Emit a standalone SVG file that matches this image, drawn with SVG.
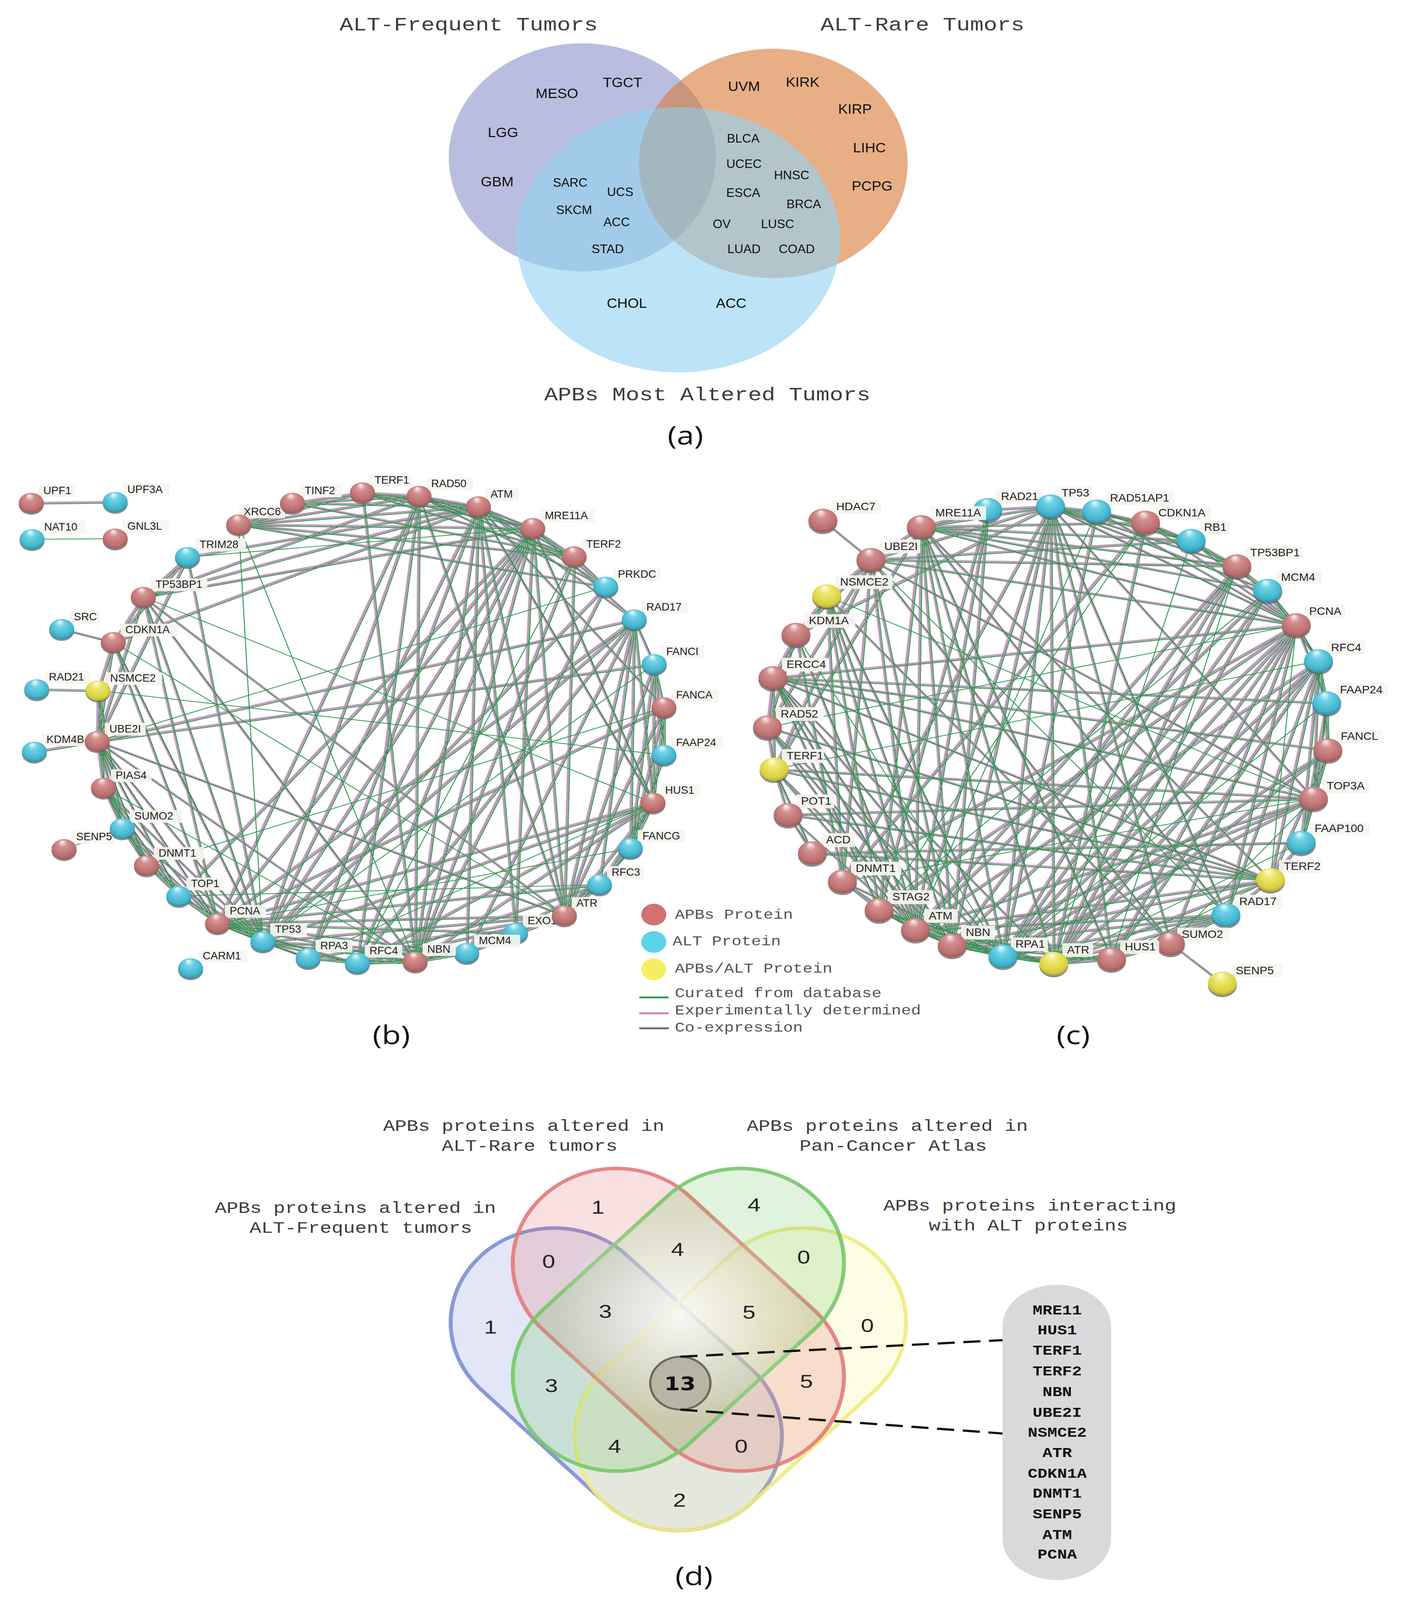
<svg xmlns="http://www.w3.org/2000/svg" xmlns:xlink="http://www.w3.org/1999/xlink" width="3618" height="5019" viewBox="0 0 3618 5019">
<style>
.lb{font-family:"Liberation Sans",Arial,sans-serif;font-size:33px;fill:#1e1e1e}
.lc{font-size:35px}
.bx{fill:#f6f5f0;fill-opacity:.93}
.sh{fill:#666;fill-opacity:.75}
.va{font-family:"Liberation Sans",Arial,sans-serif;fill:#111;text-anchor:middle}
.mono{font-family:"Liberation Mono","Courier New",monospace;fill:#3c3c3c}
.mid{text-anchor:middle}
.num{font-family:"Liberation Sans",Arial,sans-serif;font-size:60px;fill:#222;text-anchor:middle}
.cap{font-family:"Open Sans","Liberation Sans",sans-serif;font-size:80px;fill:#111;text-anchor:middle}
.lst{font-family:"Liberation Mono","Courier New",monospace;font-size:42px;font-weight:bold;fill:#111;text-anchor:middle}
</style>
<defs>
<radialGradient id="gR" cx="0.5" cy="0.45" r="0.6" fx="0.42" fy="0.12"><stop offset="0" stop-color="#fff7f7"/><stop offset="0.3" stop-color="#d49090"/><stop offset="0.8" stop-color="#bb6d6d"/><stop offset="1" stop-color="#935252"/></radialGradient>
<radialGradient id="gB" cx="0.5" cy="0.45" r="0.6" fx="0.42" fy="0.12"><stop offset="0" stop-color="#f2feff"/><stop offset="0.3" stop-color="#6fd2e6"/><stop offset="0.8" stop-color="#40b3cc"/><stop offset="1" stop-color="#2b8196"/></radialGradient>
<radialGradient id="gY" cx="0.5" cy="0.45" r="0.6" fx="0.42" fy="0.12"><stop offset="0" stop-color="#fffff2"/><stop offset="0.3" stop-color="#efe872"/><stop offset="0.8" stop-color="#d9d13c"/><stop offset="1" stop-color="#a39c2c"/></radialGradient>
<radialGradient id="glow" cx="0.5" cy="0.5" r="0.5"><stop offset="0" stop-color="#fff" stop-opacity=".85"/><stop offset="1" stop-color="#fff" stop-opacity="0"/></radialGradient>
<clipPath id="cpP"><ellipse cx="1491" cy="494" rx="342" ry="358"/></clipPath>
<clipPath id="cpO"><ellipse cx="1980" cy="513" rx="344" ry="360"/></clipPath>
</defs>
<rect width="3618" height="5019" fill="#fff"/>
<g id="figure" transform="scale(1 0.8155)">

<!-- (a) Venn -->
<g id="venn-a">
<g id="set-alt-frequent"><ellipse cx="1491" cy="494" rx="342" ry="358" fill="#b9bde0"/></g>
<g id="set-alt-rare"><ellipse cx="1980" cy="513" rx="344" ry="360" fill="#e8ae86"/>
<g clip-path="url(#cpP)"><ellipse cx="1980" cy="513" rx="344" ry="360" fill="#c9957f"/></g></g>
<g id="set-apbs-altered"><ellipse cx="1737" cy="753" rx="414" ry="416" fill="#bce4f6"/>
<g clip-path="url(#cpP)"><ellipse cx="1737" cy="753" rx="414" ry="416" fill="#a2cbe9"/></g>
<g clip-path="url(#cpO)"><ellipse cx="1737" cy="753" rx="414" ry="416" fill="#b2c5ca"/></g>
<g clip-path="url(#cpP)"><g clip-path="url(#cpO)"><ellipse cx="1737" cy="753" rx="414" ry="416" fill="#a3b7bf"/></g></g></g>
<g id="venn-a-labels" class="va" font-size="44">
<text transform="translate(1426 308) scale(.84 1)">MESO</text>
<text transform="translate(1594 274) scale(.84 1)">TGCT</text>
<text transform="translate(1288 431) scale(.84 1)">LGG</text>
<text transform="translate(1273 585) scale(.84 1)">GBM</text>
<text transform="translate(1905 286) scale(.84 1)">UVM</text>
<text transform="translate(2055 272) scale(.84 1)">KIRK</text>
<text transform="translate(2189 357) scale(.84 1)">KIRP</text>
<text transform="translate(2226 478) scale(.84 1)">LIHC</text>
<text transform="translate(2233 598) scale(.84 1)">PCPG</text>
<text transform="translate(1605 966) scale(.84 1)">CHOL</text>
<text transform="translate(1872 966) scale(.84 1)">ACC</text>
</g>
<g class="va" font-size="38">
<text transform="translate(1460 586) scale(.84 1)">SARC</text>
<text transform="translate(1588 616) scale(.84 1)">UCS</text>
<text transform="translate(1470 672) scale(.84 1)">SKCM</text>
<text transform="translate(1579 710) scale(.84 1)">ACC</text>
<text transform="translate(1556 795) scale(.84 1)">STAD</text>
<text transform="translate(1903 448) scale(.84 1)">BLCA</text>
<text transform="translate(1905 527) scale(.84 1)">UCEC</text>
<text transform="translate(2027 563) scale(.84 1)">HNSC</text>
<text transform="translate(1903 618) scale(.84 1)">ESCA</text>
<text transform="translate(2058 654) scale(.84 1)">BRCA</text>
<text transform="translate(1848 716) scale(.84 1)">OV</text>
<text transform="translate(1991 716) scale(.84 1)">LUSC</text>
<text transform="translate(1905 795) scale(.84 1)">LUAD</text>
<text transform="translate(2040 795) scale(.84 1)">COAD</text>
</g>
<g class="mono mid" font-size="58">
<text x="1200" y="96">ALT-Frequent Tumors</text>
<text x="2362" y="96">ALT-Rare Tumors</text>
<text x="1811" y="1257">APBs Most Altered Tumors</text>
</g>
<text class="cap" x="1755" y="1395">(a)</text>
</g>

<!-- (b) connectors -->
<g id="connectors-b" fill="none" stroke="#cc78c0" stroke-width="7">
<g id="eb">
<line x1="80" y1="1579" x2="295" y2="1576"/><line x1="158" y1="1975" x2="290" y2="2016"/><line x1="94" y1="2164" x2="251" y2="2168"/><line x1="88" y1="2360" x2="249" y2="2327"/>
<line x1="611" y1="1647" x2="749" y2="1579"/><line x1="611" y1="1647" x2="928" y2="1546"/><line x1="611" y1="1647" x2="1073" y2="1557"/><line x1="611" y1="1647" x2="1225" y2="1590"/><line x1="611" y1="1647" x2="1364" y2="1658"/><line x1="611" y1="1647" x2="1470" y2="1747"/><line x1="611" y1="1647" x2="1551" y2="1842"/>
<line x1="749" y1="1579" x2="928" y2="1546"/><line x1="749" y1="1579" x2="1073" y2="1557"/><line x1="749" y1="1579" x2="1470" y2="1747"/><line x1="749" y1="1579" x2="1225" y2="1590"/>
<line x1="928" y1="1546" x2="1073" y2="1557"/><line x1="928" y1="1546" x2="1225" y2="1590"/><line x1="928" y1="1546" x2="1364" y2="1658"/><line x1="928" y1="1546" x2="1470" y2="1747"/><line x1="928" y1="1546" x2="1063" y2="3019"/>
<line x1="1073" y1="1557" x2="1225" y2="1590"/><line x1="1073" y1="1557" x2="1364" y2="1658"/><line x1="1073" y1="1557" x2="1470" y2="1747"/><line x1="1073" y1="1557" x2="1063" y2="3019"/><line x1="1073" y1="1557" x2="673" y2="2956"/><line x1="1073" y1="1557" x2="1551" y2="1842"/><line x1="1073" y1="1557" x2="1445" y2="2874"/><line x1="1073" y1="1557" x2="367" y2="1874"/><line x1="1073" y1="1557" x2="557" y2="2899"/><line x1="1073" y1="1557" x2="915" y2="3024"/>
<line x1="1225" y1="1590" x2="1364" y2="1658"/><line x1="1225" y1="1590" x2="1470" y2="1747"/><line x1="1225" y1="1590" x2="673" y2="2956"/><line x1="1225" y1="1590" x2="1063" y2="3019"/><line x1="1225" y1="1590" x2="367" y2="1874"/><line x1="1225" y1="1590" x2="290" y2="2016"/><line x1="1225" y1="1590" x2="1445" y2="2874"/><line x1="1225" y1="1590" x2="1551" y2="1842"/><line x1="1225" y1="1590" x2="1624" y2="1945"/><line x1="1225" y1="1590" x2="1672" y2="2520"/><line x1="1225" y1="1590" x2="1195" y2="2992"/><line x1="1225" y1="1590" x2="1320" y2="2929"/><line x1="1225" y1="1590" x2="1700" y2="2221"/><line x1="1225" y1="1590" x2="480" y2="1749"/><line x1="1225" y1="1590" x2="789" y2="3008"/>
<line x1="1364" y1="1658" x2="1470" y2="1747"/><line x1="1364" y1="1658" x2="1063" y2="3019"/><line x1="1364" y1="1658" x2="1551" y2="1842"/><line x1="1364" y1="1658" x2="1624" y2="1945"/><line x1="1364" y1="1658" x2="673" y2="2956"/><line x1="1364" y1="1658" x2="367" y2="1874"/><line x1="1364" y1="1658" x2="1445" y2="2874"/><line x1="1364" y1="1658" x2="1320" y2="2929"/><line x1="1364" y1="1658" x2="915" y2="3024"/><line x1="1364" y1="1658" x2="789" y2="3008"/><line x1="1364" y1="1658" x2="1672" y2="2520"/><line x1="1364" y1="1658" x2="557" y2="2899"/><line x1="1364" y1="1658" x2="458" y2="2813"/>
<line x1="1470" y1="1747" x2="1551" y2="1842"/><line x1="1470" y1="1747" x2="1063" y2="3019"/><line x1="1470" y1="1747" x2="1445" y2="2874"/><line x1="1551" y1="1842" x2="673" y2="2956"/><line x1="1551" y1="1842" x2="1063" y2="3019"/>
<line x1="1624" y1="1945" x2="1675" y2="2085"/><line x1="1624" y1="1945" x2="1672" y2="2520"/><line x1="1624" y1="1945" x2="1535" y2="2777"/><line x1="1624" y1="1945" x2="915" y2="3024"/><line x1="1624" y1="1945" x2="1445" y2="2874"/><line x1="1624" y1="1945" x2="1195" y2="2992"/><line x1="1624" y1="1945" x2="557" y2="2899"/><line x1="1624" y1="1945" x2="1614" y2="2663"/><line x1="1624" y1="1945" x2="673" y2="2956"/>
<line x1="1675" y1="2085" x2="1700" y2="2221"/><line x1="1675" y1="2085" x2="1700" y2="2370"/><line x1="1675" y1="2085" x2="1614" y2="2663"/><line x1="1675" y1="2085" x2="1445" y2="2874"/><line x1="1675" y1="2085" x2="1672" y2="2520"/>
<line x1="1700" y1="2221" x2="1700" y2="2370"/><line x1="1700" y1="2221" x2="1614" y2="2663"/><line x1="1700" y1="2221" x2="1445" y2="2874"/><line x1="1700" y1="2221" x2="557" y2="2899"/><line x1="1700" y1="2221" x2="1672" y2="2520"/><line x1="1700" y1="2370" x2="1614" y2="2663"/>
<line x1="1672" y1="2520" x2="1445" y2="2874"/><line x1="1672" y1="2520" x2="1535" y2="2777"/><line x1="1672" y1="2520" x2="1614" y2="2663"/><line x1="1672" y1="2520" x2="915" y2="3024"/><line x1="1672" y1="2520" x2="1063" y2="3019"/><line x1="1672" y1="2520" x2="557" y2="2899"/><line x1="1672" y1="2520" x2="673" y2="2956"/>
<line x1="1614" y1="2663" x2="1535" y2="2777"/><line x1="1614" y1="2663" x2="1445" y2="2874"/><line x1="1535" y1="2777" x2="1445" y2="2874"/><line x1="1535" y1="2777" x2="915" y2="3024"/><line x1="1535" y1="2777" x2="557" y2="2899"/><line x1="1535" y1="2777" x2="1195" y2="2992"/>
<line x1="1445" y1="2874" x2="673" y2="2956"/><line x1="1445" y1="2874" x2="1063" y2="3019"/><line x1="1445" y1="2874" x2="789" y2="3008"/><line x1="1445" y1="2874" x2="557" y2="2899"/><line x1="1445" y1="2874" x2="1195" y2="2992"/><line x1="1445" y1="2874" x2="915" y2="3024"/><line x1="1445" y1="2874" x2="367" y2="1874"/><line x1="1445" y1="2874" x2="249" y2="2327"/>
<line x1="1320" y1="2929" x2="557" y2="2899"/><line x1="1320" y1="2929" x2="1063" y2="3019"/><line x1="1195" y1="2992" x2="1063" y2="3019"/><line x1="1195" y1="2992" x2="557" y2="2899"/><line x1="1195" y1="2992" x2="915" y2="3024"/><line x1="1195" y1="2992" x2="673" y2="2956"/>
<line x1="1063" y1="3019" x2="915" y2="3024"/><line x1="1063" y1="3019" x2="673" y2="2956"/><line x1="1063" y1="3019" x2="789" y2="3008"/><line x1="1063" y1="3019" x2="557" y2="2899"/><line x1="1063" y1="3019" x2="367" y2="1874"/><line x1="1063" y1="3019" x2="249" y2="2327"/>
<line x1="915" y1="3024" x2="789" y2="3008"/><line x1="915" y1="3024" x2="557" y2="2899"/><line x1="915" y1="3024" x2="673" y2="2956"/><line x1="789" y1="3008" x2="673" y2="2956"/><line x1="789" y1="3008" x2="557" y2="2899"/>
<line x1="673" y1="2956" x2="557" y2="2899"/><line x1="673" y1="2956" x2="290" y2="2016"/><line x1="673" y1="2956" x2="367" y2="1874"/><line x1="673" y1="2956" x2="249" y2="2327"/><line x1="673" y1="2956" x2="375" y2="2717"/><line x1="673" y1="2956" x2="458" y2="2813"/><line x1="673" y1="2956" x2="265" y2="2473"/><line x1="673" y1="2956" x2="313" y2="2601"/><line x1="673" y1="2956" x2="480" y2="1749"/>
<line x1="557" y1="2899" x2="458" y2="2813"/><line x1="557" y1="2899" x2="375" y2="2717"/><line x1="557" y1="2899" x2="313" y2="2601"/><line x1="557" y1="2899" x2="249" y2="2327"/><line x1="557" y1="2899" x2="265" y2="2473"/><line x1="557" y1="2899" x2="290" y2="2016"/><line x1="557" y1="2899" x2="367" y2="1874"/>
<line x1="480" y1="1749" x2="367" y2="1874"/><line x1="480" y1="1749" x2="290" y2="2016"/><line x1="480" y1="1749" x2="249" y2="2327"/><line x1="367" y1="1874" x2="290" y2="2016"/><line x1="367" y1="1874" x2="249" y2="2327"/><line x1="290" y1="2016" x2="249" y2="2327"/><line x1="290" y1="2016" x2="251" y2="2168"/>
<line x1="251" y1="2168" x2="249" y2="2327"/><line x1="251" y1="2168" x2="313" y2="2601"/><line x1="251" y1="2168" x2="265" y2="2473"/><line x1="249" y1="2327" x2="265" y2="2473"/><line x1="249" y1="2327" x2="313" y2="2601"/><line x1="249" y1="2327" x2="375" y2="2717"/><line x1="249" y1="2327" x2="458" y2="2813"/><line x1="249" y1="2327" x2="1624" y2="1945"/><line x1="249" y1="2327" x2="1675" y2="2085"/>
<line x1="265" y1="2473" x2="313" y2="2601"/><line x1="265" y1="2473" x2="375" y2="2717"/><line x1="265" y1="2473" x2="458" y2="2813"/><line x1="313" y1="2601" x2="375" y2="2717"/><line x1="313" y1="2601" x2="458" y2="2813"/><line x1="375" y1="2717" x2="458" y2="2813"/>
</g>
<use xlink:href="#eb" href="#eb" stroke="#f4ecf2" stroke-width="3.6"/>
<use xlink:href="#eb" href="#eb" stroke="#505050" stroke-width="1.3"/>
<use xlink:href="#eb" href="#eb" stroke="#2a9a4e" stroke-width="2.3" transform="translate(3.5 3.5)"/>
<g stroke="#2a9a4e" stroke-width="2.4">
<line x1="82" y1="1693" x2="295" y2="1691"/><line x1="164" y1="2666" x2="313" y2="2601"/><line x1="480" y1="1749" x2="1364" y2="1658"/><line x1="265" y1="2473" x2="1063" y2="3019"/><line x1="367" y1="1874" x2="1672" y2="2520"/><line x1="611" y1="1647" x2="673" y2="2956"/><line x1="290" y1="2016" x2="1445" y2="2874"/><line x1="375" y1="2717" x2="1700" y2="2221"/><line x1="458" y1="2813" x2="1535" y2="2777"/><line x1="557" y1="2899" x2="1614" y2="2663"/><line x1="673" y1="2956" x2="1675" y2="2085"/><line x1="789" y1="3008" x2="1672" y2="2520"/><line x1="611" y1="1647" x2="1063" y2="3019"/><line x1="1470" y1="1747" x2="915" y2="3024"/><line x1="1551" y1="1842" x2="249" y2="2327"/><line x1="251" y1="2168" x2="1700" y2="2370"/>
</g>
</g>

<!-- (b) nodes -->
<g id="nodes-b">
<g id="b-UPF1"><rect class="bx" x="99" y="1521" width="94" height="40" rx="4"/><circle class="sh" cx="80" cy="1584" r="32"/><circle fill="url(#gR)" cx="80" cy="1579" r="32"/><text class="lb" transform="translate(111 1551) scale(.85 1)">UPF1</text></g>
<g id="b-UPF3A"><rect class="bx" x="314" y="1518" width="120" height="40" rx="4"/><circle class="sh" cx="295" cy="1581" r="32"/><circle fill="url(#gB)" cx="295" cy="1576" r="32"/><text class="lb" transform="translate(326 1548) scale(.85 1)">UPF3A</text></g>
<g id="b-NAT10"><rect class="bx" x="101" y="1635" width="117" height="40" rx="4"/><circle class="sh" cx="82" cy="1698" r="32"/><circle fill="url(#gB)" cx="82" cy="1693" r="32"/><text class="lb" transform="translate(113 1665) scale(.85 1)">NAT10</text></g>
<g id="b-GNL3L"><rect class="bx" x="314" y="1633" width="119" height="40" rx="4"/><circle class="sh" cx="295" cy="1696" r="32"/><circle fill="url(#gR)" cx="295" cy="1691" r="32"/><text class="lb" transform="translate(326 1663) scale(.85 1)">GNL3L</text></g>
<g id="b-XRCC6"><rect class="bx" x="612" y="1587" width="118" height="40" rx="4"/><circle class="sh" cx="611" cy="1652" r="32"/><circle fill="url(#gR)" cx="611" cy="1647" r="32"/><text class="lb" transform="translate(624 1617) scale(.85 1)">XRCC6</text></g>
<g id="b-TINF2"><rect class="bx" x="768" y="1521" width="107" height="40" rx="4"/><circle class="sh" cx="749" cy="1584" r="32"/><circle fill="url(#gR)" cx="749" cy="1579" r="32"/><text class="lb" transform="translate(780 1551) scale(.85 1)">TINF2</text></g>
<g id="b-TERF1"><rect class="bx" x="947" y="1488" width="107" height="40" rx="4"/><circle class="sh" cx="928" cy="1551" r="32"/><circle fill="url(#gR)" cx="928" cy="1546" r="32"/><text class="lb" transform="translate(959 1518) scale(.85 1)">TERF1</text></g>
<g id="b-RAD50"><rect class="bx" x="1092" y="1499" width="120" height="40" rx="4"/><circle class="sh" cx="1073" cy="1562" r="32"/><circle fill="url(#gR)" cx="1073" cy="1557" r="32"/><text class="lb" transform="translate(1104 1529) scale(.85 1)">RAD50</text></g>
<g id="b-ATM"><rect class="bx" x="1244" y="1532" width="85" height="40" rx="4"/><circle class="sh" cx="1225" cy="1595" r="32"/><circle fill="url(#gR)" cx="1225" cy="1590" r="32"/><text class="lb" transform="translate(1256 1562) scale(.85 1)">ATM</text></g>
<g id="b-MRE11A"><rect class="bx" x="1383" y="1600" width="140" height="40" rx="4"/><circle class="sh" cx="1364" cy="1663" r="32"/><circle fill="url(#gR)" cx="1364" cy="1658" r="32"/><text class="lb" transform="translate(1395 1630) scale(.85 1)">MRE11A</text></g>
<g id="b-TERF2"><rect class="bx" x="1489" y="1689" width="108" height="40" rx="4"/><circle class="sh" cx="1470" cy="1752" r="32"/><circle fill="url(#gR)" cx="1470" cy="1747" r="32"/><text class="lb" transform="translate(1501 1719) scale(.85 1)">TERF2</text></g>
<g id="b-PRKDC"><rect class="bx" x="1570" y="1784" width="121" height="40" rx="4"/><circle class="sh" cx="1551" cy="1847" r="32"/><circle fill="url(#gB)" cx="1551" cy="1842" r="32"/><text class="lb" transform="translate(1582 1814) scale(.85 1)">PRKDC</text></g>
<g id="b-RAD17"><rect class="bx" x="1643" y="1887" width="120" height="40" rx="4"/><circle class="sh" cx="1624" cy="1950" r="32"/><circle fill="url(#gB)" cx="1624" cy="1945" r="32"/><text class="lb" transform="translate(1655 1917) scale(.85 1)">RAD17</text></g>
<g id="b-FANCI"><rect class="bx" x="1694" y="2027" width="108" height="40" rx="4"/><circle class="sh" cx="1675" cy="2090" r="32"/><circle fill="url(#gB)" cx="1675" cy="2085" r="32"/><text class="lb" transform="translate(1706 2057) scale(.85 1)">FANCI</text></g>
<g id="b-FANCA"><rect class="bx" x="1719" y="2163" width="121" height="40" rx="4"/><circle class="sh" cx="1700" cy="2226" r="32"/><circle fill="url(#gR)" cx="1700" cy="2221" r="32"/><text class="lb" transform="translate(1731 2193) scale(.85 1)">FANCA</text></g>
<g id="b-FAAP24"><rect class="bx" x="1719" y="2312" width="133" height="40" rx="4"/><circle class="sh" cx="1700" cy="2375" r="32"/><circle fill="url(#gB)" cx="1700" cy="2370" r="32"/><text class="lb" transform="translate(1731 2342) scale(.85 1)">FAAP24</text></g>
<g id="b-HUS1"><rect class="bx" x="1691" y="2462" width="100" height="40" rx="4"/><circle class="sh" cx="1672" cy="2525" r="32"/><circle fill="url(#gR)" cx="1672" cy="2520" r="32"/><text class="lb" transform="translate(1703 2492) scale(.85 1)">HUS1</text></g>
<g id="b-FANCG"><rect class="bx" x="1633" y="2605" width="122" height="40" rx="4"/><circle class="sh" cx="1614" cy="2668" r="32"/><circle fill="url(#gB)" cx="1614" cy="2663" r="32"/><text class="lb" transform="translate(1645 2635) scale(.85 1)">FANCG</text></g>
<g id="b-RFC3"><rect class="bx" x="1554" y="2719" width="94" height="40" rx="4"/><circle class="sh" cx="1535" cy="2782" r="32"/><circle fill="url(#gB)" cx="1535" cy="2777" r="32"/><text class="lb" transform="translate(1566 2749) scale(.85 1)">RFC3</text></g>
<g id="b-EXO1"><rect class="bx" x="1339" y="2871" width="102" height="40" rx="4"/><circle class="sh" cx="1320" cy="2934" r="32"/><circle fill="url(#gB)" cx="1320" cy="2929" r="32"/><text class="lb" transform="translate(1351 2901) scale(.85 1)">EXO1</text></g>
<g id="b-ATR"><rect class="bx" x="1464" y="2816" width="76" height="40" rx="4"/><circle class="sh" cx="1445" cy="2879" r="32"/><circle fill="url(#gR)" cx="1445" cy="2874" r="32"/><text class="lb" transform="translate(1476 2846) scale(.85 1)">ATR</text></g>
<g id="b-MCM4"><rect class="bx" x="1214" y="2934" width="118" height="40" rx="4"/><circle class="sh" cx="1195" cy="2997" r="32"/><circle fill="url(#gB)" cx="1195" cy="2992" r="32"/><text class="lb" transform="translate(1226 2964) scale(.85 1)">MCM4</text></g>
<g id="b-NBN"><rect class="bx" x="1082" y="2961" width="85" height="40" rx="4"/><circle class="sh" cx="1063" cy="3024" r="32"/><circle fill="url(#gR)" cx="1063" cy="3019" r="32"/><text class="lb" transform="translate(1094 2991) scale(.85 1)">NBN</text></g>
<g id="b-RFC4"><rect class="bx" x="934" y="2966" width="96" height="40" rx="4"/><circle class="sh" cx="915" cy="3029" r="32"/><circle fill="url(#gB)" cx="915" cy="3024" r="32"/><text class="lb" transform="translate(946 2996) scale(.85 1)">RFC4</text></g>
<g id="b-RPA3"><rect class="bx" x="808" y="2950" width="94" height="40" rx="4"/><circle class="sh" cx="789" cy="3013" r="32"/><circle fill="url(#gB)" cx="789" cy="3008" r="32"/><text class="lb" transform="translate(820 2980) scale(.85 1)">RPA3</text></g>
<g id="b-CARM1"><rect class="bx" x="507" y="2982" width="126" height="40" rx="4"/><circle class="sh" cx="488" cy="3045" r="32"/><circle fill="url(#gB)" cx="488" cy="3040" r="32"/><text class="lb" transform="translate(519 3012) scale(.85 1)">CARM1</text></g>
<g id="b-TP53"><rect class="bx" x="692" y="2898" width="94" height="40" rx="4"/><circle class="sh" cx="673" cy="2961" r="32"/><circle fill="url(#gB)" cx="673" cy="2956" r="32"/><text class="lb" transform="translate(704 2928) scale(.85 1)">TP53</text></g>
<g id="b-PCNA"><rect class="bx" x="576" y="2841" width="105" height="40" rx="4"/><circle class="sh" cx="557" cy="2904" r="32"/><circle fill="url(#gR)" cx="557" cy="2899" r="32"/><text class="lb" transform="translate(588 2871) scale(.85 1)">PCNA</text></g>
<g id="b-TOP1"><rect class="bx" x="477" y="2755" width="95" height="40" rx="4"/><circle class="sh" cx="458" cy="2818" r="32"/><circle fill="url(#gB)" cx="458" cy="2813" r="32"/><text class="lb" transform="translate(489 2785) scale(.85 1)">TOP1</text></g>
<g id="b-DNMT1"><rect class="bx" x="394" y="2659" width="128" height="40" rx="4"/><circle class="sh" cx="375" cy="2722" r="32"/><circle fill="url(#gR)" cx="375" cy="2717" r="32"/><text class="lb" transform="translate(406 2689) scale(.85 1)">DNMT1</text></g>
<g id="b-SENP5"><rect class="bx" x="183" y="2608" width="110" height="40" rx="4"/><circle class="sh" cx="164" cy="2671" r="32"/><circle fill="url(#gR)" cx="164" cy="2666" r="32"/><text class="lb" transform="translate(195 2638) scale(.85 1)">SENP5</text></g>
<g id="b-SUMO2"><rect class="bx" x="332" y="2543" width="134" height="40" rx="4"/><circle class="sh" cx="313" cy="2606" r="32"/><circle fill="url(#gB)" cx="313" cy="2601" r="32"/><text class="lb" transform="translate(344 2573) scale(.85 1)">SUMO2</text></g>
<g id="b-PIAS4"><rect class="bx" x="284" y="2415" width="104" height="40" rx="4"/><circle class="sh" cx="265" cy="2478" r="32"/><circle fill="url(#gR)" cx="265" cy="2473" r="32"/><text class="lb" transform="translate(296 2445) scale(.85 1)">PIAS4</text></g>
<g id="b-KDM4B"><rect class="bx" x="107" y="2302" width="129" height="40" rx="4"/><circle class="sh" cx="88" cy="2365" r="32"/><circle fill="url(#gB)" cx="88" cy="2360" r="32"/><text class="lb" transform="translate(119 2332) scale(.85 1)">KDM4B</text></g>
<g id="b-UBE2I"><rect class="bx" x="268" y="2269" width="105" height="40" rx="4"/><circle class="sh" cx="249" cy="2332" r="32"/><circle fill="url(#gR)" cx="249" cy="2327" r="32"/><text class="lb" transform="translate(280 2299) scale(.85 1)">UBE2I</text></g>
<g id="b-RAD21"><rect class="bx" x="113" y="2106" width="118" height="40" rx="4"/><circle class="sh" cx="94" cy="2169" r="32"/><circle fill="url(#gB)" cx="94" cy="2164" r="32"/><text class="lb" transform="translate(125 2136) scale(.85 1)">RAD21</text></g>
<g id="b-NSMCE2"><rect class="bx" x="270" y="2110" width="145" height="40" rx="4"/><circle class="sh" cx="251" cy="2173" r="32"/><circle fill="url(#gY)" cx="251" cy="2168" r="32"/><text class="lb" transform="translate(282 2140) scale(.85 1)">NSMCE2</text></g>
<g id="b-SRC"><rect class="bx" x="177" y="1917" width="79" height="40" rx="4"/><circle class="sh" cx="158" cy="1980" r="32"/><circle fill="url(#gB)" cx="158" cy="1975" r="32"/><text class="lb" transform="translate(189 1947) scale(.85 1)">SRC</text></g>
<g id="b-CDKN1A"><rect class="bx" x="309" y="1958" width="146" height="40" rx="4"/><circle class="sh" cx="290" cy="2021" r="32"/><circle fill="url(#gR)" cx="290" cy="2016" r="32"/><text class="lb" transform="translate(321 1988) scale(.85 1)">CDKN1A</text></g>
<g id="b-TP53BP1"><rect class="bx" x="386" y="1816" width="145" height="40" rx="4"/><circle class="sh" cx="367" cy="1879" r="32"/><circle fill="url(#gR)" cx="367" cy="1874" r="32"/><text class="lb" transform="translate(398 1846) scale(.85 1)">TP53BP1</text></g>
<g id="b-TRIM28"><rect class="bx" x="499" y="1691" width="130" height="40" rx="4"/><circle class="sh" cx="480" cy="1754" r="32"/><circle fill="url(#gB)" cx="480" cy="1749" r="32"/><text class="lb" transform="translate(511 1721) scale(.85 1)">TRIM28</text></g>
</g>
<text class="cap" x="1002" y="3278">(b)</text>

<!-- legend -->
<g id="legend">
<ellipse cx="1674" cy="2871" rx="32" ry="34" fill="#d07272"/>
<ellipse cx="1674" cy="2957" rx="32" ry="34" fill="#5dd3ea"/>
<ellipse cx="1674" cy="3043" rx="32" ry="34" fill="#f6ee62"/>
<line x1="1637" y1="3131" x2="1712" y2="3131" stroke="#2e9a50" stroke-width="6"/>
<line x1="1637" y1="3181" x2="1712" y2="3181" stroke="#c980c0" stroke-width="6"/>
<line x1="1637" y1="3228" x2="1712" y2="3228" stroke="#6e6e6e" stroke-width="6"/>
<g class="mono" font-size="42" style="fill:#555">
<text x="1728" y="2884">APBs Protein</text>
<text x="1722" y="2968">ALT Protein</text>
<text x="1728" y="3053">APBs/ALT Protein</text>
<text x="1728" y="3131">Curated from database</text>
<text x="1728" y="3185">Experimentally determined</text>
<text x="1728" y="3238">Co-expression</text>
</g>
</g>

<!-- (c) connectors -->
<g id="connectors-c" fill="none" stroke="#cc78c0" stroke-width="7">
<g id="ec">
<line x1="2107" y1="1634" x2="2230" y2="1757"/>
<line x1="2230" y1="1757" x2="2359" y2="1654"/><line x1="2230" y1="1757" x2="2117" y2="1871"/><line x1="2230" y1="1757" x2="2038" y2="1992"/><line x1="2230" y1="1757" x2="2690" y2="1589"/><line x1="2230" y1="1757" x2="3319" y2="1962"/><line x1="2230" y1="1757" x2="3363" y2="2507"/><line x1="2230" y1="1757" x2="1965" y2="2283"/><line x1="2230" y1="1757" x2="1982" y2="2415"/><line x1="2230" y1="1757" x2="2344" y2="2919"/><line x1="2230" y1="1757" x2="2438" y2="2968"/><line x1="2230" y1="1757" x2="3167" y2="1777"/><line x1="2230" y1="1757" x2="3050" y2="1697"/><line x1="2230" y1="1757" x2="2997" y2="2962"/><line x1="2230" y1="1757" x2="2157" y2="2767"/>
<line x1="2359" y1="1654" x2="2529" y2="1600"/><line x1="2359" y1="1654" x2="2690" y2="1589"/><line x1="2359" y1="1654" x2="2438" y2="2968"/><line x1="2359" y1="1654" x2="2344" y2="2919"/><line x1="2359" y1="1654" x2="2698" y2="3025"/><line x1="2359" y1="1654" x2="2568" y2="3002"/><line x1="2359" y1="1654" x2="2846" y2="3011"/><line x1="2359" y1="1654" x2="3139" y2="2872"/><line x1="2359" y1="1654" x2="3253" y2="2762"/><line x1="2359" y1="1654" x2="3167" y2="1777"/><line x1="2359" y1="1654" x2="3319" y2="1962"/><line x1="2359" y1="1654" x2="3050" y2="1697"/><line x1="2359" y1="1654" x2="2933" y2="1640"/><line x1="2359" y1="1654" x2="3246" y2="1854"/><line x1="2359" y1="1654" x2="2251" y2="2857"/><line x1="2359" y1="1654" x2="1982" y2="2415"/>
<line x1="2529" y1="1600" x2="2690" y2="1589"/><line x1="2529" y1="1600" x2="2251" y2="2857"/><line x1="2529" y1="1600" x2="2344" y2="2919"/><line x1="2529" y1="1600" x2="2438" y2="2968"/>
<line x1="2690" y1="1589" x2="2808" y2="1605"/><line x1="2690" y1="1589" x2="2933" y2="1640"/><line x1="2690" y1="1589" x2="3050" y2="1697"/><line x1="2690" y1="1589" x2="3167" y2="1777"/><line x1="2690" y1="1589" x2="3319" y2="1962"/><line x1="2690" y1="1589" x2="2344" y2="2919"/><line x1="2690" y1="1589" x2="2698" y2="3025"/><line x1="2690" y1="1589" x2="2438" y2="2968"/><line x1="2690" y1="1589" x2="2568" y2="3002"/><line x1="2690" y1="1589" x2="2846" y2="3011"/><line x1="2690" y1="1589" x2="2997" y2="2962"/><line x1="2690" y1="1589" x2="3139" y2="2872"/><line x1="2690" y1="1589" x2="3246" y2="1854"/><line x1="2690" y1="1589" x2="3363" y2="2507"/><line x1="2690" y1="1589" x2="2157" y2="2767"/><line x1="2690" y1="1589" x2="2038" y2="1992"/>
<line x1="2808" y1="1605" x2="3050" y2="1697"/><line x1="2808" y1="1605" x2="3319" y2="1962"/><line x1="2808" y1="1605" x2="2568" y2="3002"/><line x1="2808" y1="1605" x2="2933" y2="1640"/>
<line x1="2933" y1="1640" x2="3050" y2="1697"/><line x1="2933" y1="1640" x2="3167" y2="1777"/><line x1="2933" y1="1640" x2="3319" y2="1962"/><line x1="2933" y1="1640" x2="2698" y2="3025"/><line x1="2933" y1="1640" x2="2157" y2="2767"/>
<line x1="3050" y1="1697" x2="3167" y2="1777"/><line x1="3050" y1="1697" x2="3319" y2="1962"/><line x1="3050" y1="1697" x2="3246" y2="1854"/>
<line x1="3167" y1="1777" x2="3246" y2="1854"/><line x1="3167" y1="1777" x2="3319" y2="1962"/><line x1="3167" y1="1777" x2="2344" y2="2919"/><line x1="3167" y1="1777" x2="2438" y2="2968"/><line x1="3167" y1="1777" x2="2568" y2="3002"/><line x1="3167" y1="1777" x2="2698" y2="3025"/>
<line x1="3246" y1="1854" x2="3319" y2="1962"/><line x1="3246" y1="1854" x2="3376" y2="2075"/><line x1="3246" y1="1854" x2="2568" y2="3002"/><line x1="3246" y1="1854" x2="2698" y2="3025"/><line x1="3246" y1="1854" x2="2344" y2="2919"/>
<line x1="3319" y1="1962" x2="3376" y2="2075"/><line x1="3319" y1="1962" x2="3397" y2="2207"/><line x1="3319" y1="1962" x2="2568" y2="3002"/><line x1="3319" y1="1962" x2="2698" y2="3025"/><line x1="3319" y1="1962" x2="2846" y2="3011"/><line x1="3319" y1="1962" x2="3139" y2="2872"/><line x1="3319" y1="1962" x2="2997" y2="2962"/><line x1="3319" y1="1962" x2="2157" y2="2767"/><line x1="3319" y1="1962" x2="1979" y2="2128"/><line x1="3319" y1="1962" x2="2251" y2="2857"/><line x1="3319" y1="1962" x2="2438" y2="2968"/>
<line x1="3376" y1="2075" x2="3397" y2="2207"/><line x1="3376" y1="2075" x2="3400" y2="2355"/><line x1="3376" y1="2075" x2="3363" y2="2507"/><line x1="3376" y1="2075" x2="3139" y2="2872"/><line x1="3376" y1="2075" x2="2846" y2="3011"/><line x1="3376" y1="2075" x2="2698" y2="3025"/><line x1="3376" y1="2075" x2="2568" y2="3002"/><line x1="3376" y1="2075" x2="3253" y2="2762"/><line x1="3376" y1="2075" x2="3332" y2="2645"/><line x1="3376" y1="2075" x2="2344" y2="2919"/>
<line x1="3397" y1="2207" x2="3400" y2="2355"/><line x1="3397" y1="2207" x2="3363" y2="2507"/><line x1="3397" y1="2207" x2="3332" y2="2645"/>
<line x1="3400" y1="2355" x2="3363" y2="2507"/><line x1="3400" y1="2355" x2="3332" y2="2645"/><line x1="3400" y1="2355" x2="2698" y2="3025"/><line x1="3400" y1="2355" x2="2568" y2="3002"/><line x1="3400" y1="2355" x2="3253" y2="2762"/>
<line x1="3363" y1="2507" x2="3332" y2="2645"/><line x1="3363" y1="2507" x2="2568" y2="3002"/><line x1="3363" y1="2507" x2="2344" y2="2919"/><line x1="3363" y1="2507" x2="2438" y2="2968"/><line x1="3363" y1="2507" x2="1979" y2="2128"/><line x1="3363" y1="2507" x2="1982" y2="2415"/>
<line x1="3332" y1="2645" x2="3253" y2="2762"/>
<line x1="3253" y1="2762" x2="3139" y2="2872"/><line x1="3253" y1="2762" x2="2344" y2="2919"/><line x1="3253" y1="2762" x2="2438" y2="2968"/><line x1="3253" y1="2762" x2="1982" y2="2415"/><line x1="3253" y1="2762" x2="2018" y2="2558"/><line x1="3253" y1="2762" x2="2080" y2="2678"/><line x1="3253" y1="2762" x2="1979" y2="2128"/><line x1="3253" y1="2762" x2="1965" y2="2283"/><line x1="3253" y1="2762" x2="2698" y2="3025"/>
<line x1="3139" y1="2872" x2="2846" y2="3011"/><line x1="3139" y1="2872" x2="2698" y2="3025"/><line x1="3139" y1="2872" x2="2568" y2="3002"/><line x1="3139" y1="2872" x2="2344" y2="2919"/><line x1="3139" y1="2872" x2="2438" y2="2968"/><line x1="3139" y1="2872" x2="2997" y2="2962"/>
<line x1="2997" y1="2962" x2="3130" y2="3087"/><line x1="2997" y1="2962" x2="2846" y2="3011"/><line x1="2997" y1="2962" x2="2698" y2="3025"/><line x1="2997" y1="2962" x2="2117" y2="1871"/><line x1="2997" y1="2962" x2="2438" y2="2968"/>
<line x1="2846" y1="3011" x2="2698" y2="3025"/><line x1="2846" y1="3011" x2="2568" y2="3002"/><line x1="2846" y1="3011" x2="2344" y2="2919"/><line x1="2846" y1="3011" x2="2438" y2="2968"/>
<line x1="2698" y1="3025" x2="2568" y2="3002"/><line x1="2698" y1="3025" x2="2344" y2="2919"/><line x1="2698" y1="3025" x2="2438" y2="2968"/><line x1="2698" y1="3025" x2="2251" y2="2857"/><line x1="2698" y1="3025" x2="1979" y2="2128"/>
<line x1="2568" y1="3002" x2="2438" y2="2968"/><line x1="2568" y1="3002" x2="2344" y2="2919"/><line x1="2568" y1="3002" x2="2251" y2="2857"/><line x1="2568" y1="3002" x2="1979" y2="2128"/><line x1="2568" y1="3002" x2="1965" y2="2283"/><line x1="2568" y1="3002" x2="2157" y2="2767"/>
<line x1="2438" y1="2968" x2="2344" y2="2919"/><line x1="2438" y1="2968" x2="2251" y2="2857"/><line x1="2438" y1="2968" x2="1979" y2="2128"/><line x1="2438" y1="2968" x2="1965" y2="2283"/><line x1="2438" y1="2968" x2="1982" y2="2415"/><line x1="2438" y1="2968" x2="2117" y2="1871"/>
<line x1="2344" y1="2919" x2="2251" y2="2857"/><line x1="2344" y1="2919" x2="1979" y2="2128"/><line x1="2344" y1="2919" x2="1965" y2="2283"/><line x1="2344" y1="2919" x2="1982" y2="2415"/><line x1="2344" y1="2919" x2="2018" y2="2558"/><line x1="2344" y1="2919" x2="2157" y2="2767"/><line x1="2344" y1="2919" x2="2117" y2="1871"/><line x1="2344" y1="2919" x2="2038" y2="1992"/>
<line x1="2251" y1="2857" x2="2157" y2="2767"/><line x1="2251" y1="2857" x2="2117" y2="1871"/><line x1="2251" y1="2857" x2="1979" y2="2128"/>
<line x1="2157" y1="2767" x2="2038" y2="1992"/><line x1="2157" y1="2767" x2="2117" y2="1871"/>
<line x1="2080" y1="2678" x2="2018" y2="2558"/><line x1="2080" y1="2678" x2="1982" y2="2415"/><line x1="2018" y1="2558" x2="1982" y2="2415"/><line x1="1982" y1="2415" x2="1965" y2="2283"/><line x1="1982" y1="2415" x2="1979" y2="2128"/><line x1="1965" y1="2283" x2="1979" y2="2128"/><line x1="1965" y1="2283" x2="2038" y2="1992"/><line x1="1979" y1="2128" x2="2038" y2="1992"/><line x1="1979" y1="2128" x2="2117" y2="1871"/><line x1="2038" y1="1992" x2="2117" y2="1871"/>
<line x1="2117" y1="1871" x2="2568" y2="3002"/><line x1="1979" y1="2128" x2="3400" y2="2355"/><line x1="1979" y1="2128" x2="3397" y2="2207"/><line x1="2018" y1="2558" x2="3363" y2="2507"/><line x1="2080" y1="2678" x2="3332" y2="2645"/>
</g>
<use xlink:href="#ec" href="#ec" stroke="#f4ecf2" stroke-width="3.6"/>
<use xlink:href="#ec" href="#ec" stroke="#505050" stroke-width="1.3"/>
<use xlink:href="#ec" href="#ec" stroke="#2a9a4e" stroke-width="2.3" transform="translate(3.5 3.5)"/>
<g stroke="#2a9a4e" stroke-width="2.4">
<line x1="2808" y1="1605" x2="2344" y2="2919"/><line x1="2933" y1="1640" x2="2251" y2="2857"/><line x1="3050" y1="1697" x2="2698" y2="3025"/><line x1="3167" y1="1777" x2="2846" y2="3011"/><line x1="3246" y1="1854" x2="2251" y2="2857"/><line x1="3319" y1="1962" x2="3253" y2="2762"/><line x1="3397" y1="2207" x2="2568" y2="3002"/><line x1="3363" y1="2507" x2="2997" y2="2962"/><line x1="3332" y1="2645" x2="2698" y2="3025"/><line x1="3253" y1="2762" x2="2846" y2="3011"/><line x1="2038" y1="1992" x2="2568" y2="3002"/><line x1="1965" y1="2283" x2="3319" y2="1962"/><line x1="1982" y1="2415" x2="3376" y2="2075"/><line x1="2230" y1="1757" x2="3139" y2="2872"/><line x1="2117" y1="1871" x2="3363" y2="2507"/><line x1="2157" y1="2767" x2="3363" y2="2507"/>
</g>
</g>

<!-- (c) nodes -->
<g id="nodes-c">
<g id="c-HDAC7"><rect class="bx" x="2129" y="1570" width="127" height="43" rx="4"/><circle class="sh" cx="2107" cy="1640" r="37"/><circle fill="url(#gR)" cx="2107" cy="1634" r="37"/><text class="lb lc" transform="translate(2141 1602) scale(.85 1)">HDAC7</text></g>
<g id="c-RAD21"><rect class="bx" x="2551" y="1537" width="120" height="43" rx="4"/><circle class="sh" cx="2529" cy="1606" r="37"/><circle fill="url(#gB)" cx="2529" cy="1600" r="37"/><text class="lb lc" transform="translate(2563 1569) scale(.85 1)">RAD21</text></g>
<g id="c-MRE11A"><rect class="bx" x="2383" y="1589" width="142" height="43" rx="4"/><circle class="sh" cx="2359" cy="1660" r="37"/><circle fill="url(#gR)" cx="2359" cy="1654" r="37"/><text class="lb lc" transform="translate(2395 1621) scale(.85 1)">MRE11A</text></g>
<g id="c-TP53"><rect class="bx" x="2706" y="1526" width="92" height="43" rx="4"/><circle class="sh" cx="2690" cy="1595" r="37"/><circle fill="url(#gB)" cx="2690" cy="1589" r="37"/><text class="lb lc" transform="translate(2718 1558) scale(.85 1)">TP53</text></g>
<g id="c-RAD51AP1"><rect class="bx" x="2830" y="1543" width="178" height="43" rx="4"/><circle class="sh" cx="2808" cy="1611" r="37"/><circle fill="url(#gB)" cx="2808" cy="1605" r="37"/><text class="lb lc" transform="translate(2842 1575) scale(.85 1)">RAD51AP1</text></g>
<g id="c-CDKN1A"><rect class="bx" x="2954" y="1589" width="147" height="43" rx="4"/><circle class="sh" cx="2933" cy="1646" r="37"/><circle fill="url(#gR)" cx="2933" cy="1640" r="37"/><text class="lb lc" transform="translate(2966 1621) scale(.85 1)">CDKN1A</text></g>
<g id="c-RB1"><rect class="bx" x="3071" y="1635" width="77" height="43" rx="4"/><circle class="sh" cx="3050" cy="1703" r="37"/><circle fill="url(#gB)" cx="3050" cy="1697" r="37"/><text class="lb lc" transform="translate(3083 1667) scale(.85 1)">RB1</text></g>
<g id="c-TP53BP1"><rect class="bx" x="3189" y="1714" width="147" height="43" rx="4"/><circle class="sh" cx="3167" cy="1783" r="37"/><circle fill="url(#gR)" cx="3167" cy="1777" r="37"/><text class="lb lc" transform="translate(3201 1746) scale(.85 1)">TP53BP1</text></g>
<g id="c-MCM4"><rect class="bx" x="3268" y="1792" width="116" height="43" rx="4"/><circle class="sh" cx="3246" cy="1860" r="37"/><circle fill="url(#gB)" cx="3246" cy="1854" r="37"/><text class="lb lc" transform="translate(3280 1824) scale(.85 1)">MCM4</text></g>
<g id="c-PCNA"><rect class="bx" x="3340" y="1898" width="104" height="43" rx="4"/><circle class="sh" cx="3319" cy="1968" r="37"/><circle fill="url(#gR)" cx="3319" cy="1962" r="37"/><text class="lb lc" transform="translate(3352 1930) scale(.85 1)">PCNA</text></g>
<g id="c-RFC4"><rect class="bx" x="3396" y="2012" width="98" height="43" rx="4"/><circle class="sh" cx="3376" cy="2081" r="37"/><circle fill="url(#gB)" cx="3376" cy="2075" r="37"/><text class="lb lc" transform="translate(3408 2044) scale(.85 1)">RFC4</text></g>
<g id="c-FAAP24"><rect class="bx" x="3419" y="2144" width="135" height="43" rx="4"/><circle class="sh" cx="3397" cy="2213" r="37"/><circle fill="url(#gB)" cx="3397" cy="2207" r="37"/><text class="lb lc" transform="translate(3431 2176) scale(.85 1)">FAAP24</text></g>
<g id="c-FANCL"><rect class="bx" x="3421" y="2291" width="118" height="43" rx="4"/><circle class="sh" cx="3400" cy="2361" r="37"/><circle fill="url(#gR)" cx="3400" cy="2355" r="37"/><text class="lb lc" transform="translate(3433 2323) scale(.85 1)">FANCL</text></g>
<g id="c-TOP3A"><rect class="bx" x="3385" y="2446" width="120" height="43" rx="4"/><circle class="sh" cx="3363" cy="2513" r="37"/><circle fill="url(#gR)" cx="3363" cy="2507" r="37"/><text class="lb lc" transform="translate(3397 2478) scale(.85 1)">TOP3A</text></g>
<g id="c-FAAP100"><rect class="bx" x="3354" y="2580" width="153" height="43" rx="4"/><circle class="sh" cx="3332" cy="2651" r="37"/><circle fill="url(#gB)" cx="3332" cy="2645" r="37"/><text class="lb lc" transform="translate(3366 2612) scale(.85 1)">FAAP100</text></g>
<g id="c-TERF2"><rect class="bx" x="3275" y="2699" width="110" height="43" rx="4"/><circle class="sh" cx="3253" cy="2768" r="37"/><circle fill="url(#gY)" cx="3253" cy="2762" r="37"/><text class="lb lc" transform="translate(3287 2731) scale(.85 1)">TERF2</text></g>
<g id="c-RAD17"><rect class="bx" x="3161" y="2809" width="122" height="43" rx="4"/><circle class="sh" cx="3139" cy="2878" r="37"/><circle fill="url(#gB)" cx="3139" cy="2872" r="37"/><text class="lb lc" transform="translate(3173 2841) scale(.85 1)">RAD17</text></g>
<g id="c-SENP5"><rect class="bx" x="3152" y="3026" width="131" height="43" rx="4"/><circle class="sh" cx="3130" cy="3093" r="37"/><circle fill="url(#gY)" cx="3130" cy="3087" r="37"/><text class="lb lc" transform="translate(3164 3058) scale(.85 1)">SENP5</text></g>
<g id="c-SUMO2"><rect class="bx" x="3014" y="2912" width="133" height="43" rx="4"/><circle class="sh" cx="2997" cy="2968" r="37"/><circle fill="url(#gR)" cx="2997" cy="2962" r="37"/><text class="lb lc" transform="translate(3026 2944) scale(.85 1)">SUMO2</text></g>
<g id="c-HUS1"><rect class="bx" x="2868" y="2952" width="100" height="43" rx="4"/><circle class="sh" cx="2846" cy="3017" r="37"/><circle fill="url(#gR)" cx="2846" cy="3011" r="37"/><text class="lb lc" transform="translate(2880 2984) scale(.85 1)">HUS1</text></g>
<g id="c-RPA1"><rect class="bx" x="2588" y="2943" width="95" height="43" rx="4"/><circle class="sh" cx="2568" cy="3008" r="37"/><circle fill="url(#gB)" cx="2568" cy="3002" r="37"/><text class="lb lc" transform="translate(2600 2975) scale(.85 1)">RPA1</text></g>
<g id="c-ATR"><rect class="bx" x="2720" y="2961" width="79" height="43" rx="4"/><circle class="sh" cx="2698" cy="3031" r="37"/><circle fill="url(#gY)" cx="2698" cy="3025" r="37"/><text class="lb lc" transform="translate(2732 2993) scale(.85 1)">ATR</text></g>
<g id="c-NBN"><rect class="bx" x="2461" y="2906" width="87" height="43" rx="4"/><circle class="sh" cx="2438" cy="2974" r="37"/><circle fill="url(#gR)" cx="2438" cy="2968" r="37"/><text class="lb lc" transform="translate(2473 2938) scale(.85 1)">NBN</text></g>
<g id="c-ATM"><rect class="bx" x="2366" y="2854" width="86" height="43" rx="4"/><circle class="sh" cx="2344" cy="2925" r="37"/><circle fill="url(#gR)" cx="2344" cy="2919" r="37"/><text class="lb lc" transform="translate(2378 2886) scale(.85 1)">ATM</text></g>
<g id="c-STAG2"><rect class="bx" x="2273" y="2795" width="117" height="43" rx="4"/><circle class="sh" cx="2251" cy="2863" r="37"/><circle fill="url(#gR)" cx="2251" cy="2857" r="37"/><text class="lb lc" transform="translate(2285 2827) scale(.85 1)">STAG2</text></g>
<g id="c-DNMT1"><rect class="bx" x="2179" y="2705" width="129" height="43" rx="4"/><circle class="sh" cx="2157" cy="2773" r="37"/><circle fill="url(#gR)" cx="2157" cy="2767" r="37"/><text class="lb lc" transform="translate(2191 2737) scale(.85 1)">DNMT1</text></g>
<g id="c-ACD"><rect class="bx" x="2103" y="2616" width="87" height="43" rx="4"/><circle class="sh" cx="2080" cy="2684" r="37"/><circle fill="url(#gR)" cx="2080" cy="2678" r="37"/><text class="lb lc" transform="translate(2115 2648) scale(.85 1)">ACD</text></g>
<g id="c-POT1"><rect class="bx" x="2039" y="2494" width="97" height="43" rx="4"/><circle class="sh" cx="2018" cy="2564" r="37"/><circle fill="url(#gR)" cx="2018" cy="2558" r="37"/><text class="lb lc" transform="translate(2051 2526) scale(.85 1)">POT1</text></g>
<g id="c-TERF1"><rect class="bx" x="2002" y="2352" width="108" height="43" rx="4"/><circle class="sh" cx="1982" cy="2421" r="37"/><circle fill="url(#gY)" cx="1982" cy="2415" r="37"/><text class="lb lc" transform="translate(2014 2384) scale(.85 1)">TERF1</text></g>
<g id="c-RAD52"><rect class="bx" x="1987" y="2220" width="123" height="43" rx="4"/><circle class="sh" cx="1965" cy="2289" r="37"/><circle fill="url(#gR)" cx="1965" cy="2283" r="37"/><text class="lb lc" transform="translate(1999 2252) scale(.85 1)">RAD52</text></g>
<g id="c-ERCC4"><rect class="bx" x="2002" y="2065" width="117" height="43" rx="4"/><circle class="sh" cx="1979" cy="2134" r="37"/><circle fill="url(#gR)" cx="1979" cy="2128" r="37"/><text class="lb lc" transform="translate(2014 2097) scale(.85 1)">ERCC4</text></g>
<g id="c-KDM1A"><rect class="bx" x="2059" y="1928" width="131" height="43" rx="4"/><circle class="sh" cx="2038" cy="1998" r="37"/><circle fill="url(#gR)" cx="2038" cy="1992" r="37"/><text class="lb lc" transform="translate(2071 1960) scale(.85 1)">KDM1A</text></g>
<g id="c-NSMCE2"><rect class="bx" x="2139" y="1806" width="146" height="43" rx="4"/><circle class="sh" cx="2117" cy="1877" r="37"/><circle fill="url(#gY)" cx="2117" cy="1871" r="37"/><text class="lb lc" transform="translate(2151 1838) scale(.85 1)">NSMCE2</text></g>
<g id="c-UBE2I"><rect class="bx" x="2252" y="1694" width="105" height="43" rx="4"/><circle class="sh" cx="2230" cy="1763" r="37"/><circle fill="url(#gR)" cx="2230" cy="1757" r="37"/><text class="lb lc" transform="translate(2264 1726) scale(.85 1)">UBE2I</text></g>
</g>
<text class="cap" x="2748" y="3278">(c)</text>

<!-- (d) Venn -->
<g id="venn-d">
<g id="set-d-frequent"><rect x="-490" y="-265" width="980" height="530" rx="265" transform="translate(1578 4330) scale(1 1.12) rotate(45)" fill="#7b8cd6" fill-opacity=".22" stroke="#7d8ed6" stroke-opacity=".9" stroke-width="10"/></g>
<g id="set-d-interacting"><rect x="-490" y="-265" width="980" height="530" rx="265" transform="translate(1896 4330) scale(1 1.12) rotate(-45)" fill="#f2ee5a" fill-opacity=".16" stroke="#f0eb7e" stroke-opacity=".9" stroke-width="10"/></g>
<g id="set-d-rare"><rect x="-490" y="-265" width="980" height="530" rx="265" transform="translate(1737 4143) scale(1 1.12) rotate(45)" fill="#e06464" fill-opacity=".2" stroke="#e27b7b" stroke-opacity=".9" stroke-width="10"/></g>
<g id="set-d-pancancer"><rect x="-490" y="-265" width="980" height="530" rx="265" transform="translate(1737 4143) scale(1 1.12) rotate(-45)" fill="#63c254" fill-opacity=".2" stroke="#78c66c" stroke-opacity=".9" stroke-width="10"/></g>
<circle cx="1742" cy="4130" r="330" fill="url(#glow)"/>
<g id="venn-d-counts" class="num">
<text x="1531" y="3810">1</text><text x="1931" y="3802">4</text><text x="1405" y="3980">0</text><text x="1735" y="3942">4</text><text x="2058" y="3967">0</text>
<text x="1256" y="4187">1</text><text x="1550" y="4137">3</text><text x="1918" y="4140">5</text><text x="2221" y="4182">0</text>
<text x="1412" y="4370">3</text><text x="2065" y="4357">5</text><text x="1574" y="4560">4</text><text x="1898" y="4560">0</text><text x="1740" y="4730">2</text>
</g>
<g id="core-13"><ellipse cx="1742" cy="4342" rx="77" ry="83" fill="#b7b6a4" stroke="#6a6a5e" stroke-width="6"/>
<text x="1741" y="4364" font-family="'DejaVu Sans','Liberation Sans',sans-serif" font-size="58" font-weight="bold" fill="#111" text-anchor="middle">13</text></g>
<g id="connectors-d" stroke="#111" stroke-width="7" stroke-dasharray="44 22" fill="none">
<line x1="1742" y1="4259" x2="2567" y2="4207"/>
<line x1="1742" y1="4425" x2="2567" y2="4500"/>
</g>
<g id="list-13"><rect x="2567" y="4033" width="278" height="927" rx="139" ry="130" fill="#d9d9db"/>
<g class="lst">
<text x="2707" y="4126">MRE11</text><text x="2707" y="4189">HUS1</text><text x="2707" y="4253">TERF1</text><text x="2707" y="4317">TERF2</text><text x="2707" y="4383">NBN</text><text x="2707" y="4447">UBE2I</text><text x="2707" y="4510">NSMCE2</text><text x="2707" y="4574">ATR</text><text x="2707" y="4639">CDKN1A</text><text x="2707" y="4702">DNMT1</text><text x="2707" y="4766">SENP5</text><text x="2707" y="4831">ATM</text><text x="2707" y="4893">PCNA</text>
</g></g>
<g class="mono mid" font-size="50">
<text x="1341" y="3550">APBs proteins altered in</text><text x="1356" y="3613">ALT-Rare tumors</text>
<text x="2272" y="3550">APBs proteins altered in</text><text x="2287" y="3613">Pan-Cancer Atlas</text>
<text x="910" y="3807">APBs proteins altered in</text><text x="924" y="3870">ALT-Frequent tumors</text>
<text x="2637" y="3800">APBs proteins interacting</text><text x="2633" y="3863">with ALT proteins</text>
</g>
<text class="cap" x="1777" y="4976">(d)</text>
</g>
</g>
</svg>
